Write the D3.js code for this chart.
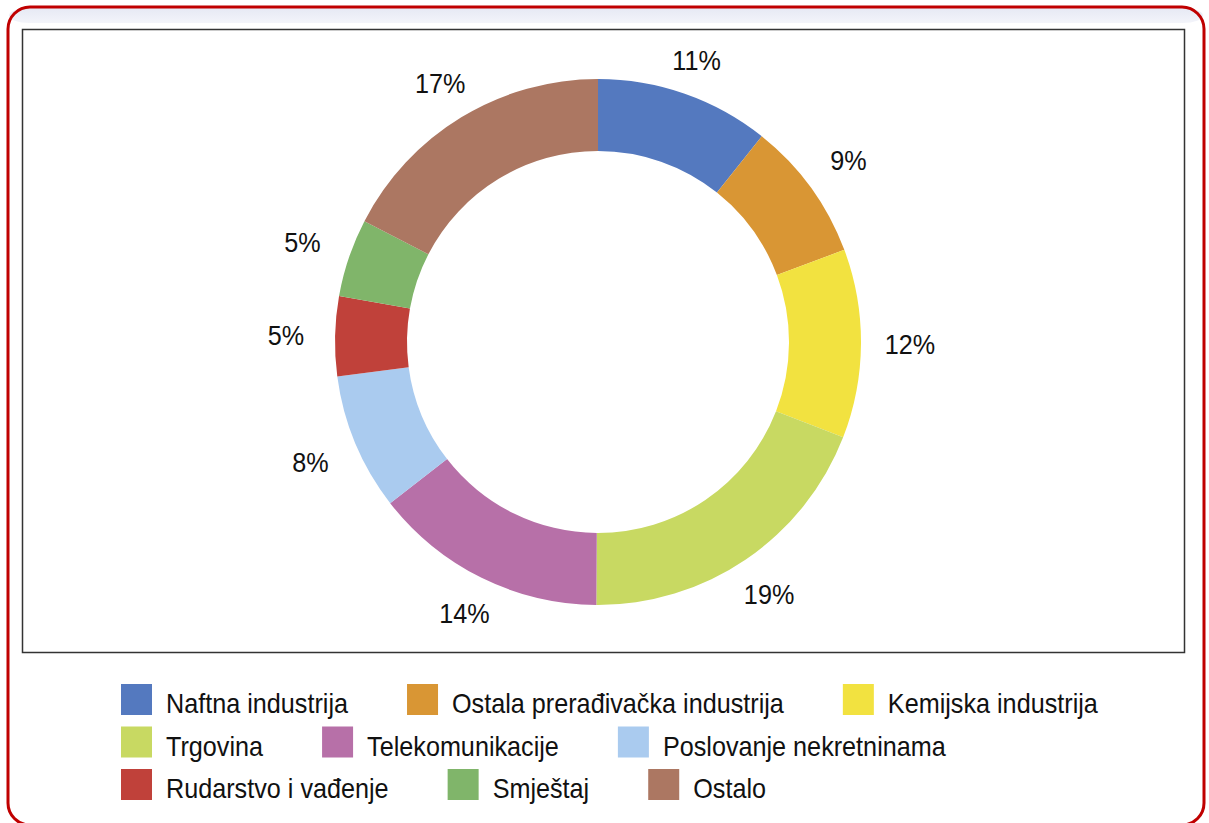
<!DOCTYPE html>
<html>
<head>
<meta charset="utf-8">
<script src="https://cdn.jsdelivr.net/npm/d3@7"></script>
<style>
  body { margin: 0; background: #fff; }
  svg text { font-family: "Liberation Sans", Arial, sans-serif; fill: #111; }
</style>
</head>
<body>
<div id="chart"></div>
<script>
const width = 1209;
const height = 823;

// sectors, clockwise from 12 o'clock
const sectors = ["Naftna industrija", "Ostala prerađivačka industrija", "Kemijska industrija",
  "Trgovina", "Telekomunikacije", "Poslovanje nekretninama",
  "Rudarstvo i vađenje", "Smještaj", "Ostalo"];
const shares = [10.7, 8.6, 11.6, 19.2, 14.4, 8.4, 4.9, 4.8, 17.4];
const colors = ["#5479bf", "#d99634", "#f2e240", "#c8d962", "#b770a8", "#aacbef",
  "#c0413a", "#80b56a", "#ac7762"];

// narrow look: regular sans squeezed horizontally
const squeeze = 0.9;

const svg = d3.select("#chart").append("svg")
  .attr("width", width)
  .attr("height", height);

// outer frame with faint top band
const defs = svg.append("defs");
const grad = defs.append("linearGradient")
  .attr("id", "band")
  .attr("x1", 0).attr("y1", 0).attr("x2", 0).attr("y2", 1);
grad.append("stop").attr("offset", "0%").attr("stop-color", "#e6e9f4");
grad.append("stop").attr("offset", "100%").attr("stop-color", "#f3f4fa");

svg.append("rect")
  .attr("x", 9).attr("y", 8)
  .attr("width", 1194).attr("height", 15)
  .attr("rx", 20)
  .attr("fill", "url(#band)");

svg.append("rect")
  .attr("x", 8).attr("y", 7)
  .attr("width", 1196).attr("height", 818)
  .attr("rx", 22)
  .attr("fill", "none")
  .attr("stroke", "#c00000")
  .attr("stroke-width", 3);

// plot area box
svg.append("rect")
  .attr("x", 22.5).attr("y", 29.5)
  .attr("width", 1162).attr("height", 623)
  .attr("fill", "#fff")
  .attr("stroke", "#333")
  .attr("stroke-width", 1.5);

// donut
const cx = 598, cy = 342;
const outerR = 263, innerR = 191;

const pie = d3.pie().sort(null).value(d => d);
const arc = d3.arc().innerRadius(innerR).outerRadius(outerR);
const arcs = pie(shares);

const g = svg.append("g").attr("transform", `translate(${cx},${cy})`);

g.selectAll("path")
  .data(arcs)
  .enter()
  .append("path")
  .attr("d", arc)
  .attr("fill", (d, i) => colors[i]);

// percent labels outside the ring
const labelW = 50, labelH = 8, gap = 24;
g.selectAll("text.pct")
  .data(arcs)
  .enter()
  .append("text")
  .attr("class", "pct")
  .attr("text-anchor", "middle")
  .attr("dy", "0.36em")
  .style("font-size", "28px")
  .attr("transform", d => {
    const a = (d.startAngle + d.endAngle) / 2;
    const s = Math.sin(a), c = Math.cos(a);
    const r = outerR + gap + labelW / 2 * Math.abs(s) + labelH / 2 * Math.abs(c);
    return `translate(${r * s},${-r * c}) scale(${squeeze},1)`;
  })
  .text(d => Math.round(d.data) + "%");

// legend, items flow left to right in rows
const legendRows = [[0, 1, 2], [3, 4, 5], [6, 7, 8]];
const legendX = 121, legendY = 684, rowStep = 42.5;
const sw = 31, textGap = 14, itemGap = 59;

legendRows.forEach((row, r) => {
  let x = legendX;
  row.forEach(i => {
    const item = svg.append("g")
      .attr("transform", `translate(${x},${legendY + r * rowStep})`);
    item.append("rect")
      .attr("width", sw)
      .attr("height", sw)
      .attr("fill", colors[i]);
    const t = item.append("text")
      .attr("transform", `translate(${sw + textGap},29) scale(${squeeze},1)`)
      .style("font-size", "28px")
      .text(sectors[i]);
    x += sw + textGap + t.node().getComputedTextLength() * squeeze + itemGap;
  });
});
</script>
</body>
</html>
